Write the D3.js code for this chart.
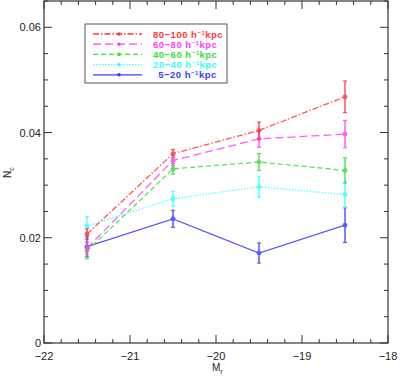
<!DOCTYPE html>
<html>
<head>
<meta charset="utf-8">
<script src="https://cdn.jsdelivr.net/npm/d3@7"></script>
<style>
  body { margin: 0; background: #fff; }
  svg { font-family: "Liberation Sans", Helvetica, Arial, sans-serif; }
</style>
</head>
<body>
<div id="chart"></div>
<script>
// magnitude bins
var mags = [-21.5, -20.5, -19.5, -18.5];

// N_c values and errors per separation bin
var n80_100 = [0.0207, 0.0360, 0.0404, 0.0468];
var e80_100 = [0.0010, 0.0008, 0.0016, 0.0030];
var n60_80 = [0.0180, 0.0347, 0.0388, 0.0397];
var e60_80 = [0.0012, 0.0010, 0.0016, 0.0026];
var n40_60 = [0.0175, 0.0331, 0.0344, 0.0328];
var e40_60 = [0.0015, 0.0010, 0.0016, 0.0024];
var n20_40 = [0.0222, 0.0274, 0.0297, 0.0282];
var e20_40 = [0.0018, 0.0014, 0.0020, 0.0024];
var n5_20 = [0.0183, 0.0236, 0.0171, 0.0224];
var e5_20 = [0.0019, 0.0016, 0.0019, 0.0033];

var labels = ["80\u2212100 h", "60\u221280 h", "40\u221260 h", "20\u221240 h", "\u20025\u221220 h"];

var xTicks = [-22, -21, -20, -19, -18];
var yTicks = [0, 0.02, 0.04, 0.06];

var series = [
  {vals: n80_100, errs: e80_100, color: "#ff3838", dash: "6,2,1.5,2", label: labels[0]},
  {vals: n60_80, errs: e60_80, color: "#ff40ff", dash: "8,4", label: labels[1]},
  {vals: n40_60, errs: e40_60, color: "#38e038", dash: "5,3", label: labels[2]},
  {vals: n20_40, errs: e20_40, color: "#38ffff", dash: "1.5,1.5", label: labels[3]},
  {vals: n5_20, errs: e5_20, color: "#3c3cff", dash: null, label: labels[4]}
];

var W = 400, H = 378;
var mLeft = 44, mRight = 388, mTop = 1, mBottom = 343;

var x = d3.scaleLinear().domain([-22, -18]).range([mLeft, mRight]);
var y = d3.scaleLinear().domain([0, 0.065]).range([mBottom, mTop]);

var svg = d3.select("#chart").append("svg")
    .attr("width", W)
    .attr("height", H);

var frameColor = "#333";

// ticks on all four sides, pointing inwards
var xMinor = d3.range(-22, -17.99, 0.2);
var yMinor = d3.range(0, 0.0651, 0.005);

function tickLen(v, majors) {
  return majors.some(function(m) { return Math.abs(m - v) < 1e-9; }) ? 8 : 4;
}

var ticks = svg.append("g").attr("stroke", frameColor).attr("stroke-width", 1);
xMinor.forEach(function(v) {
  var L = tickLen(v, xTicks);
  ticks.append("line").attr("x1", x(v)).attr("x2", x(v)).attr("y1", mBottom).attr("y2", mBottom - L);
  ticks.append("line").attr("x1", x(v)).attr("x2", x(v)).attr("y1", mTop).attr("y2", mTop + L);
});
yMinor.forEach(function(v) {
  var L = tickLen(v, yTicks);
  ticks.append("line").attr("y1", y(v)).attr("y2", y(v)).attr("x1", mLeft).attr("x2", mLeft + L);
  ticks.append("line").attr("y1", y(v)).attr("y2", y(v)).attr("x1", mRight).attr("x2", mRight - L);
});

svg.append("rect")
    .attr("x", mLeft).attr("y", mTop)
    .attr("width", mRight - mLeft).attr("height", mBottom - mTop)
    .attr("fill", "none")
    .attr("stroke", frameColor)
    .attr("stroke-width", 1.2);

// tick labels
svg.append("g").selectAll("text")
    .data(xTicks).enter()
    .append("text")
    .attr("x", function(d) { return x(d); })
    .attr("y", mBottom + 17)
    .attr("text-anchor", "middle")
    .attr("font-size", "11px")
    .attr("fill", "#222")
    .text(function(d) { return String(d).replace("-", "\u2212"); });

svg.append("g").selectAll("text")
    .data(yTicks).enter()
    .append("text")
    .attr("x", mLeft - 3)
    .attr("y", function(d) { return y(d) + 4; })
    .attr("text-anchor", "end")
    .attr("font-size", "11px")
    .attr("fill", "#222")
    .text(function(d) { return d === 0 ? "0" : d3.format(".2f")(d); });

// axis titles
var xt = svg.append("text")
    .attr("x", x(-20) - 4)
    .attr("y", 371)
    .attr("font-size", "10px")
    .attr("fill", "#222");
xt.append("tspan").text("M");
xt.append("tspan").attr("font-size", "7px").attr("dy", 3).text("r");

var yt = svg.append("text")
    .attr("transform", "translate(11," + (y(0.0325) + 6) + ") rotate(-90)")
    .attr("font-size", "10px")
    .attr("fill", "#222");
yt.append("tspan").text("N");
yt.append("tspan").attr("font-size", "7px").attr("dy", 3).text("c");

var line = d3.line()
    .x(function(d, i) { return x(mags[i]); })
    .y(function(d) { return y(d); });

// draw back-to-front so the 5-20 curve ends on top
series.slice().reverse().forEach(function(s) {
  var g = svg.append("g").attr("opacity", 0.85);
  g.append("path")
      .attr("d", line(s.vals))
      .attr("fill", "none")
      .attr("stroke", s.color)
      .attr("stroke-width", 1.3)
      .attr("stroke-dasharray", s.dash);
  s.vals.forEach(function(v, i) {
    var cx = x(mags[i]);
    var y0 = y(v - s.errs[i]), y1 = y(v + s.errs[i]);
    g.append("line").attr("x1", cx).attr("x2", cx).attr("y1", y0).attr("y2", y1)
        .attr("stroke", s.color).attr("stroke-width", 1.5);
    [y0, y1].forEach(function(yy) {
      g.append("line").attr("x1", cx - 2).attr("x2", cx + 2).attr("y1", yy).attr("y2", yy)
          .attr("stroke", s.color).attr("stroke-width", 1.2);
    });
    g.append("circle").attr("cx", cx).attr("cy", y(v)).attr("r", 2)
        .attr("fill", s.color).attr("stroke", s.color);
  });
});

// legend
var legend = svg.append("g");
legend.append("rect")
    .attr("x", 85).attr("y", 24)
    .attr("width", 142).attr("height", 59)
    .attr("fill", "#fff")
    .attr("stroke", "#555")
    .attr("stroke-width", 1);

series.forEach(function(s, i) {
  var ly = 34 + i * 10.2;
  legend.append("line")
      .attr("x1", 93).attr("x2", 142).attr("y1", ly).attr("y2", ly)
      .attr("stroke", s.color).attr("stroke-width", 1.3)
      .attr("stroke-dasharray", s.dash);
  legend.append("circle").attr("cx", 119).attr("cy", ly).attr("r", 1.8)
      .attr("fill", s.color);
  var t = legend.append("text")
      .attr("x", 153).attr("y", ly + 3.5)
      .attr("font-size", "9.5px")
      .attr("font-weight", "bold")
      .attr("letter-spacing", "0.5px")
      .attr("fill", s.color)
      .attr("xml:space", "preserve");
  t.append("tspan").text(s.label);
  t.append("tspan").attr("font-size", "6px").attr("dy", -3).text("\u22121");
  t.append("tspan").attr("dy", 3).text("kpc");
});
</script>
</body>
</html>
